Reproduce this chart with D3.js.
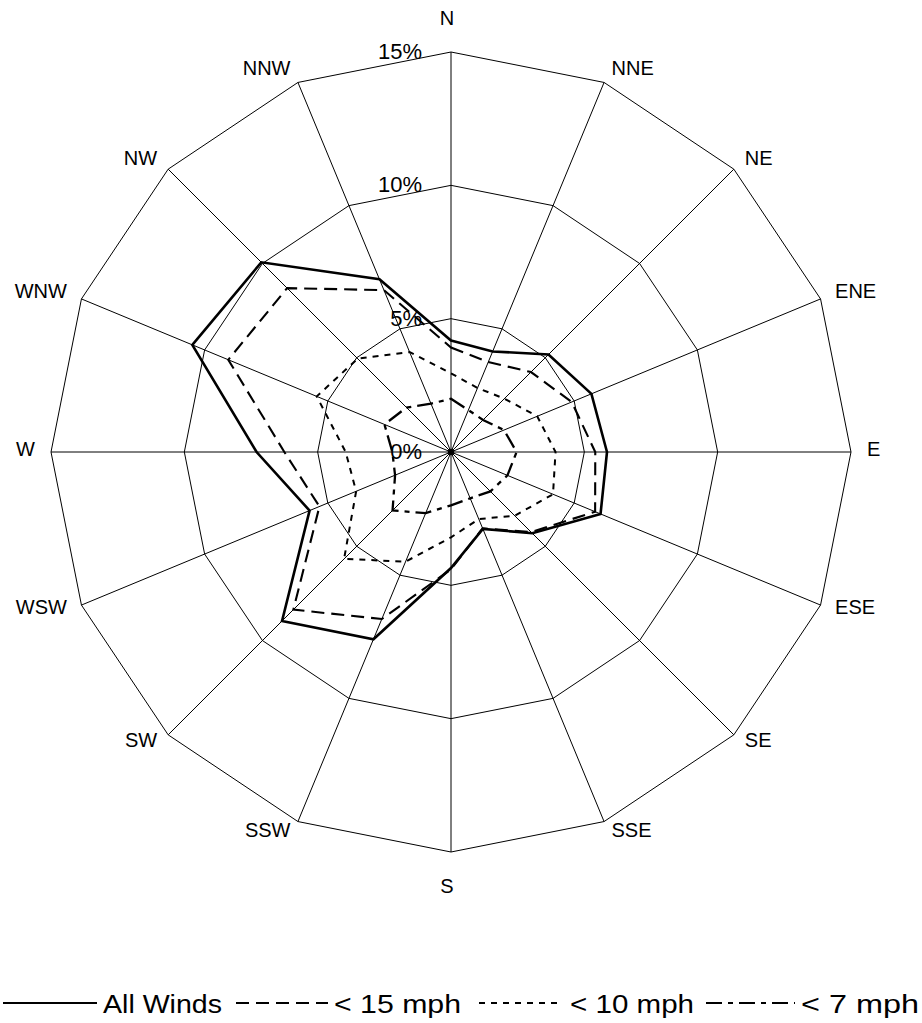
<!DOCTYPE html>
<html>
<head>
<meta charset="utf-8">
<script src="https://cdn.jsdelivr.net/npm/d3@7"></script>
<style>
  html, body { margin: 0; padding: 0; background: #fff; }
  svg { display: block; }
  text { font-family: "Liberation Sans", Arial, sans-serif; fill: #000; }
</style>
</head>
<body>
<svg id="chart" width="922" height="1023"></svg>
<script>
// ---- data ----
const directions = ["N","NNE","NE","ENE","E","ESE","SE","SSE","S","SSW","SW","WSW","W","WNW","NW","NNW"];
const allWinds = [4.18, 4.08, 5.17, 5.70, 5.85, 6.07, 4.31, 3.12, 4.35, 7.60, 8.96, 5.74, 7.29, 10.50, 10.06, 7.01];
const under15  = [3.92, 3.65, 4.24, 4.90, 5.41, 5.85, 4.25, 3.10, 4.40, 6.78, 8.36, 5.34, 6.25, 9.04, 8.69, 6.57];
const under10  = [2.95, 2.60, 2.83, 3.50, 3.92, 4.14, 3.38, 2.72, 3.20, 4.45, 5.67, 3.85, 3.95, 5.45, 4.95, 4.06];
const under7   = [2.00, 1.70, 1.70, 2.15, 2.46, 2.29, 2.09, 1.88, 2.00, 2.48, 3.10, 2.27, 2.20, 2.70, 2.36, 1.96];
const ringValues = [5, 10, 15];
const ringLabels = ["0%", "5%", "10%", "15%"];
const ringLabelValues = [0, 5, 10, 15];
const seriesNames = ["All Winds", "< 15 mph", "< 10 mph", "< 7 mph"];

// ---- layout ----
const svg = d3.select("#chart");
const cx = 451, cy = 452, R = 400;
const r = d3.scaleLinear().domain([0, 15]).range([0, R]);
const step = 2 * Math.PI / directions.length;
const ang = d3.scaleLinear().domain([0, directions.length]).range([0, 2 * Math.PI]);

const g = svg.append("g").attr("transform", `translate(${cx},${cy})`);

// rings
const ringLine = d3.lineRadial()
  .angle((d, i) => ang(i))
  .radius(d => r(d))
  .curve(d3.curveLinearClosed);

g.selectAll("path.ring").data(ringValues).enter().append("path")
  .attr("class", "ring")
  .attr("d", v => ringLine(directions.map(() => v)))
  .attr("fill", "none").attr("stroke", "#000").attr("stroke-width", 1);

// spokes
g.selectAll("line.spoke").data(directions).enter().append("line")
  .attr("x1", 0).attr("y1", 0)
  .attr("x2", (d, i) => r(15) * Math.sin(ang(i)))
  .attr("y2", (d, i) => -r(15) * Math.cos(ang(i)))
  .attr("stroke", "#000").attr("stroke-width", 1);

g.append("circle").attr("r", 3.2).attr("fill", "#000");

// ring labels
g.selectAll("text.rl").data(ringLabelValues).enter().append("text")
  .attr("x", -29)
  .attr("y", v => -r(v) + 7)
  .attr("text-anchor", "end")
  .attr("font-size", 22)
  .text((v, i) => ringLabels[i]);

// direction labels
g.selectAll("text.dir").data(directions).enter().append("text")
  .each(function(d, i) {
    const a = ang(i), s = Math.sin(a), c = Math.cos(a);
    const px = r(15) * s, py = -r(15) * c;
    const t = d3.select(this);
    t.attr("font-size", 20).attr("dominant-baseline", "central").text(d);
    if (Math.abs(s) < 0.05) {
      t.attr("text-anchor", "middle").attr("x", px - 4)
       .attr("y", py - c * 34);
    } else {
      t.attr("text-anchor", s > 0 ? "start" : "end")
       .attr("x", px + Math.sign(s) * (6 + 10 * s * s))
       .attr("y", py - 12 * c - 3);
    }
  });

// series
const styles = [
  { data: allWinds, dash: null, w: 2.6 },
  { data: under15, dash: "13,7", w: 2.1 },
  { data: under10, dash: "6,6", w: 2.0 },
  { data: under7, dash: "16,6,5,6", w: 2.3 }
];
g.selectAll("path.series").data(styles).enter().append("path")
  .attr("d", s => ringLine(s.data))
  .attr("fill", "none").attr("stroke", "#000")
  .attr("stroke-width", s => s.w)
  .attr("stroke-dasharray", s => s.dash)
  .attr("stroke-linejoin", "miter");

// legend
const legY = 1003;
const legend = [
  { x1: 3, x2: 97, tx: 103, tw: 119 },
  { x1: 236, x2: 328, tx: 334, tw: 127 },
  { x1: 479, x2: 558, tx: 570, tw: 124 },
  { x1: 706, x2: 795, tx: 801, tw: 118 }
];
legend.forEach((l, i) => {
  svg.append("line")
    .attr("x1", l.x1).attr("x2", l.x2).attr("y1", legY).attr("y2", legY)
    .attr("stroke", "#000").attr("stroke-width", 2)
    .attr("stroke-dasharray", styles[i].dash);
  svg.append("text")
    .attr("x", l.tx).attr("y", legY + 10)
    .attr("font-size", 26)
    .attr("textLength", l.tw).attr("lengthAdjust", "spacingAndGlyphs")
    .text(seriesNames[i]);
});
</script>
</body>
</html>
